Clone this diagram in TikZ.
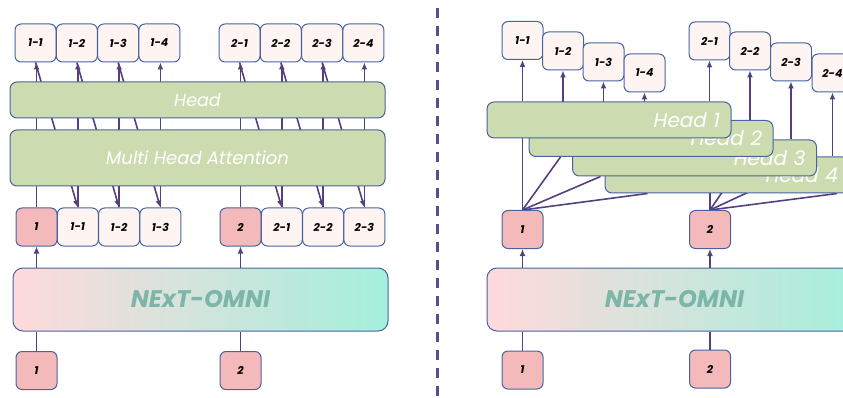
\documentclass[tikz,border=0pt]{standalone}
\usepackage{fontspec}
\setmainfont{Poppins}
\usetikzlibrary{arrows.meta,calc,backgrounds}
\definecolor{lnc}{HTML}{54407F}
\definecolor{bdc}{HTML}{4764A2}
\definecolor{pinkf}{HTML}{F4B9BB}
\definecolor{lightf}{HTML}{FEF4F1}
\definecolor{greenf}{HTML}{CDDCB0}
\definecolor{sepc}{HTML}{5E4B8B}
\definecolor{omnit}{HTML}{7DB6A9}
\definecolor{gpink}{HTML}{FFDADC}
\definecolor{gcyan}{HTML}{C0ECF6}
\definecolor{gmint}{HTML}{A4EFDC}
\begin{document}
\begin{tikzpicture}[x=1pt,y=-1pt,
 tok/.style={draw=bdc, line width=1pt, rounded corners=6pt, minimum width=41pt, minimum height=38pt, inner sep=0pt, fill=lightf, font=\fontsize{11}{11}\selectfont\bfseries\itshape},
 tokp/.style={tok, fill=pinkf},
 gbox/.style={draw=bdc, line width=1pt, rounded corners=7pt, fill=greenf, inner sep=0pt, text=white, font=\fontsize{17.5}{17.5}\selectfont\itshape},
 gboxr/.style={gbox, text width=222pt, inner xsep=11pt, align=right, minimum height=36pt, font=\fontsize{20}{20}\selectfont\itshape},
 omni/.style={draw=bdc, line width=1pt, rounded corners=10pt, minimum width=375pt, minimum height=63pt, left color=gpink, middle color=gcyan, right color=gmint, text=omnit, font=\fontsize{24}{24}\selectfont\bfseries\itshape},
 arr/.style={draw=lnc, line width=1.6pt, -{Latex[length=7pt,width=6pt]}},
 ln/.style={draw=lnc, line width=1.6pt},
]
\clip (0,0) rectangle (843,398);
\useasboundingbox (0,0) rectangle (843,398);
% ---------------- LEFT PANEL ----------------
\node[tok] (t11) at (35.5,43) {1-1};
\node[tok] (t12) at (76.8,43) {1-2};
\node[tok] (t13) at (118.1,43) {1-3};
\node[tok] (t14) at (159.4,43) {1-4};
\node[tok] (t21) at (239.5,43) {2-1};
\node[tok] (t22) at (280.8,43) {2-2};
\node[tok] (t23) at (322.1,43) {2-3};
\node[tok] (t24) at (363.4,43) {2-4};
\node[gbox, minimum width=375pt, minimum height=36pt] (head) at (197.5,100) {Head};
\node[gbox, minimum width=375pt, minimum height=56pt, font=\fontsize{18}{18}\selectfont\itshape] (mha) at (197.5,158) {Multi Head Attention};
\node[tokp] (m1) at (36.5,227) {1};
\node[tok] (m11) at (77.8,227) {1-1};
\node[tok] (m12) at (119.1,227) {1-2};
\node[tok] (m13) at (160.4,227) {1-3};
\node[tokp] (m2) at (240.5,227) {2};
\node[tok] (m21) at (281.8,227) {2-1};
\node[tok] (m22) at (323.1,227) {2-2};
\node[tok] (m23) at (364.4,227) {2-3};
\node[omni] (nx) at (200.5,299.5) {NExT-OMNI};
\node[tokp] (b1) at (36.5,370.5) {1};
\node[tokp] (b2) at (240.5,370.5) {2};
\begin{scope}[on background layer]
 \draw[arr] (m1.north) -- (m1.north |- t11.south);
 \draw[arr] (m11.north) -- (m11.north |- t12.south);
 \draw[arr] (m12.north) -- (m12.north |- t13.south);
 \draw[arr] (m13.north) -- (m13.north |- t14.south);
 \draw[arr] (m2.north) -- (m2.north |- t21.south);
 \draw[arr] (m21.north) -- (m21.north |- t22.south);
 \draw[arr] (m22.north) -- (m22.north |- t23.south);
 \draw[arr] (m23.north) -- (m23.north |- t24.south);
 \draw[arr] (t11.south) -- (m11.north);
 \draw[arr] (t12.south) -- (m12.north);
 \draw[arr] (t13.south) -- (m13.north);
 \draw[arr] (t21.south) -- (m21.north);
 \draw[arr] (t22.south) -- (m22.north);
 \draw[arr] (t23.south) -- (m23.north);
\end{scope}
\draw[arr] (m1.south |- nx.north) -- (m1.south);
\draw[arr] (m2.south |- nx.north) -- (m2.south);
\draw[ln] (b1.north) -- (b1.north |- nx.south);
\draw[ln] (b2.north) -- (b2.north |- nx.south);
% ---------------- SEPARATOR ----------------
\draw[sepc, line width=2.8pt, dash pattern=on 10pt off 8pt] (437.5,8) -- (437.5,398);
% ---------------- RIGHT PANEL ----------------
\node[tok] (r11) at (522.5,40.5) {1-1};
\node[tok] (r12) at (563,51) {1-2};
\node[tok] (r13) at (603.5,62) {1-3};
\node[tok] (r14) at (644.5,73) {1-4};
\node[tok] (r21) at (709.5,41) {2-1};
\node[tok] (r22) at (750,51) {2-2};
\node[tok] (r23) at (791,62) {2-3};
\node[tok] (r24) at (832.5,73) {2-4};
\node[gboxr] (h4) at (727,175) {Head 4};
\node[gboxr] (h3) at (694.5,158) {Head 3};
\node[gboxr] (h2) at (651,138.5) {Head 2};
\node[gboxr] (h1) at (609,120) {Head 1};
\node[tokp] (rm1) at (522.5,229.5) {1};
\node[tokp] (rm2) at (710,229.5) {2};
\node[omni] (rnx) at (674.5,299.5) {NExT-OMNI};
\node[tokp] (rb1) at (522.5,370) {1};
\node[tokp] (rb2) at (710,369) {2};
\begin{scope}[on background layer]
 \draw[arr] (r11.south |- h1.north) -- (r11.south);
 \draw[arr] (r12.south |- h2.north) -- (r12.south);
 \draw[arr] (r13.south |- h3.north) -- (r13.south);
 \draw[arr] (r14.south |- h4.north) -- (r14.south);
 \draw[arr] (r21.south |- h1.north) -- (r21.south);
 \draw[arr] (r22.south |- h2.north) -- (r22.south);
 \draw[arr] (r23.south |- h3.north) -- (r23.south);
 \draw[arr] (r24.south |- h4.north) -- (r24.south);
 \draw[ln] (rm1.north) -- (rm1.north |- h1.south);
 \draw[ln] (rm1.north) -- ($(rm1.north |- h2.south)+(38,0)$);
 \draw[ln] (rm1.north) -- ($(rm1.north |- h3.south)+(78,0)$);
 \draw[ln] (rm1.north) -- ($(rm1.north |- h4.south)+(125,0)$);
 \draw[ln] (rm2.north) -- (rm2.north |- h1.south);
 \draw[ln] (rm2.north) -- ($(rm2.north |- h2.south)+(36,0)$);
 \draw[ln] (rm2.north) -- ($(rm2.north |- h3.south)+(72,0)$);
 \draw[ln] (rm2.north) -- ($(rm2.north |- h4.south)+(127,0)$);
\end{scope}
\draw[arr] (rm1.south |- rnx.north) -- (rm1.south);
\draw[arr] (rm2.south |- rnx.north) -- (rm2.south);
\draw[ln] (rb1.north) -- (rb1.north |- rnx.south);
\draw[ln] (rb2.north) -- (rb2.north |- rnx.south);
\end{tikzpicture}
\end{document}
